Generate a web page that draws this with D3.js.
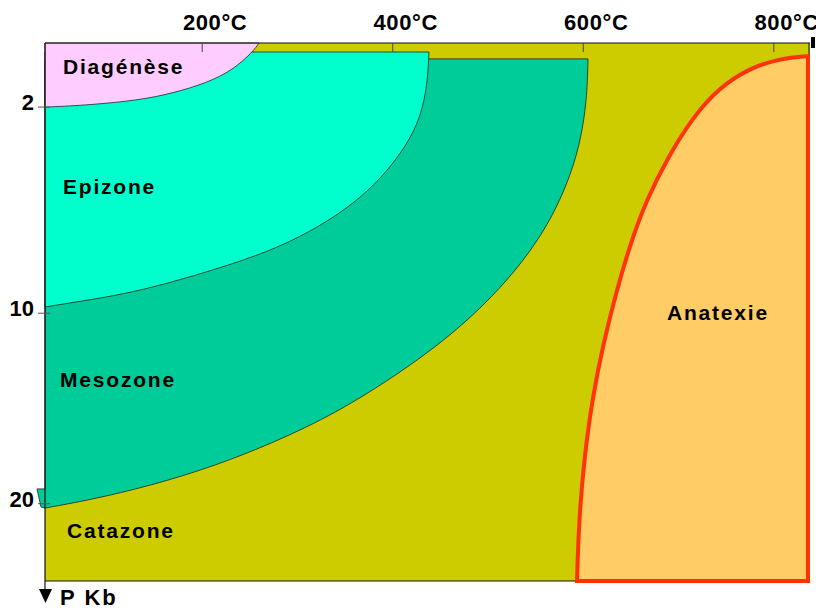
<!DOCTYPE html>
<html>
<head>
<meta charset="utf-8">
<script src="https://cdn.jsdelivr.net/npm/d3@7"></script>
<style>
  html, body { margin: 0; padding: 0; background: #fff; }
  svg { display: block; }
  text { font-family: "Liberation Sans", Arial, sans-serif; font-weight: bold; fill: #000; }
</style>
</head>
<body>
<svg id="chart" width="816" height="610"></svg>
<script>
// ---------- data ----------
const tempTicks = [200, 400, 600, 800];
const tempUnit = "°C";
const pressTicks = [2, 10, 20];
const pressLabel = "P Kb";
const tempDomain = [35, 838];
const pressDomain = [0.45, 24.6];

// Diagénèse lower boundary (T °C, P kb), top-right to left axis
const diagT = [259.6, 253.3, 232.3, 205.0, 169.4, 134.7, 82.2, 37.1, 35];
const diagP = [0.45, 0.62, 1.02, 1.34, 1.61, 1.80, 1.94, 2.0, 2.0];

// Epizone boundary
const epiTop = 0.625;
const epiT = [438.1, 436.0, 426.5, 407.6, 381.4, 349.9, 313.2, 271.2, 218.7, 166.2, 113.7, 61.2, 35];
const epiP = [0.625, 1.53, 2.54, 3.52, 4.59, 5.54, 6.42, 7.22, 7.95, 8.61, 9.16, 9.52, 9.71];

// Mesozone boundary
const mesoTop = 0.77;
const mesoT = [605.0, 603.9, 596.6, 582.9, 563.0, 535.7, 504.2, 467.5, 426.5, 381.4, 332.1, 276.4, 213.4, 145.2, 82.2, 35];
const mesoP = [0.77, 1.80, 3.18, 4.59, 6.14, 7.73, 9.25, 10.79, 12.26, 13.73, 15.19, 16.54, 17.86, 18.98, 19.78, 20.25];
const mesoTabT = [30.8, 26.6, 35];
const mesoTabP = [20.19, 19.15, 19.15];

// Anatexie boundary, bottom to top-right
const anaT = [593.4, 595.5, 600.8, 609.2, 620.7, 634.3, 649.0, 665.8, 688.9, 715.2, 743.5, 772.9, 804.4, 835.9];
const anaP = [24.6, 20.94, 17.53, 14.30, 11.52, 9.07, 6.96, 5.19, 3.59, 2.29, 1.45, 1.00, 0.77, 0.71];

const zoneNames = ["Diagénèse", "Epizone", "Mesozone", "Catazone", "Anatexie"];
const zoneColors = ["#FFCCFF", "#00FFCC", "#00CC99", "#CCCC00", "#FFCC66"];

// ---------- layout ----------
const L = 45, R = 810, T0 = 43, B = 581;
const svg = d3.select("#chart");

const x = d3.scaleLinear().domain(tempDomain).range([L, R]);
const y = d3.scalePow().exponent(0.7).domain(pressDomain).range([T0, B]);

const pts = (ts, ps) => ts.map((t, i) => [t, ps[i]]);
const curve = d3.line().x(d => x(d[0])).y(d => y(d[1])).curve(d3.curveBasis);
const lin = d3.line().x(d => x(d[0])).y(d => y(d[1]));
const asL = s => "L" + s.slice(1);

// background (Catazone)
svg.append("rect")
  .attr("x", x(tempDomain[0])).attr("y", y(pressDomain[0]))
  .attr("width", x(tempDomain[1]) - x(tempDomain[0]))
  .attr("height", y(pressDomain[1]) - y(pressDomain[0]))
  .attr("fill", zoneColors[3]);

const zoneStroke = "#222";

// Mesozone
{
  const p = lin([[tempDomain[0], mesoTop]]) + asL(curve(pts(mesoT, mesoP))) + asL(lin(pts(mesoTabT, mesoTabP))) + "Z";
  svg.append("path").attr("d", p).attr("fill", zoneColors[2]).attr("stroke", zoneStroke).attr("stroke-width", 0.8);
}
// Epizone
{
  const p = lin([[tempDomain[0], epiTop]]) + asL(curve(pts(epiT, epiP))) + "Z";
  svg.append("path").attr("d", p).attr("fill", zoneColors[1]).attr("stroke", zoneStroke).attr("stroke-width", 0.8);
}
// Diagénèse
{
  const p = lin([[tempDomain[0], pressDomain[0]]]) + asL(curve(pts(diagT, diagP))) + "Z";
  svg.append("path").attr("d", p).attr("fill", zoneColors[0]).attr("stroke", zoneStroke).attr("stroke-width", 0.8);
}

// frame: top, left, bottom
svg.append("line").attr("x1", L).attr("x2", R).attr("y1", T0).attr("y2", T0).attr("stroke", "#111").attr("stroke-width", 1.2);
svg.append("line").attr("x1", L).attr("x2", R).attr("y1", B).attr("y2", B).attr("stroke", "#111").attr("stroke-width", 1.2);
svg.append("line").attr("x1", L).attr("x2", L).attr("y1", T0).attr("y2", 590).attr("stroke", "#111").attr("stroke-width", 1.2);
svg.append("line").attr("x1", R - 1).attr("x2", R - 1).attr("y1", T0).attr("y2", 56).attr("stroke", "#111").attr("stroke-width", 1);
svg.append("rect").attr("x", R + 1).attr("y", 37).attr("width", 4).attr("height", 11).attr("fill", "#000");

// Anatexie
{
  const p = curve(pts(anaT, anaP)) + asL(lin([[anaT[anaT.length - 1], pressDomain[1]]])) + "Z";
  svg.append("path").attr("d", p).attr("fill", zoneColors[4])
    .attr("stroke", "#FF3300").attr("stroke-width", 4).attr("stroke-linejoin", "miter");
}

// down arrow
svg.append("path").attr("d", `M${L - 6},589 L${L + 7},589 L${L + 0.5},603 Z`).attr("fill", "#000");

// top temperature axis ticks
svg.selectAll(".ttick").data(tempTicks).enter().append("line")
  .attr("x1", d => x(d)).attr("x2", d => x(d)).attr("y1", T0).attr("y2", T0 + 9)
  .attr("stroke", "#444").attr("stroke-width", 1);

svg.selectAll(".tlab").data(tempTicks).enter().append("text")
  .attr("y", 30).attr("font-size", 22).attr("letter-spacing", 0.6)
  .each(function (d) {
    const t = d3.select(this);
    t.append("tspan").text(d);
    t.append("tspan").text(tempUnit);
    const w = this.getSubStringLength(0, String(d).length);
    t.attr("x", x(d) - w / 2);
  });

// left pressure axis ticks
svg.selectAll(".ptick").data(pressTicks).enter().append("line")
  .attr("x1", L - 7).attr("x2", L + 5).attr("y1", d => y(d)).attr("y2", d => y(d))
  .attr("stroke", "#555").attr("stroke-width", 1);

svg.selectAll(".plab").data(pressTicks).enter().append("text")
  .attr("x", 34).attr("y", d => y(d) + 3).attr("text-anchor", "end").attr("font-size", 22)
  .text(d => d);

svg.append("text").attr("x", 60).attr("y", 605).attr("font-size", 22).attr("letter-spacing", 2).text(pressLabel);

// zone labels
const labelPos = [[63, 74], [63, 194], [60, 387], [67, 538], [667, 320]];
svg.selectAll(".zlab").data(zoneNames).enter().append("text")
  .attr("x", (d, i) => labelPos[i][0]).attr("y", (d, i) => labelPos[i][1])
  .attr("font-size", 21).attr("letter-spacing", 1.8)
  .text(d => d);
</script>
</body>
</html>
